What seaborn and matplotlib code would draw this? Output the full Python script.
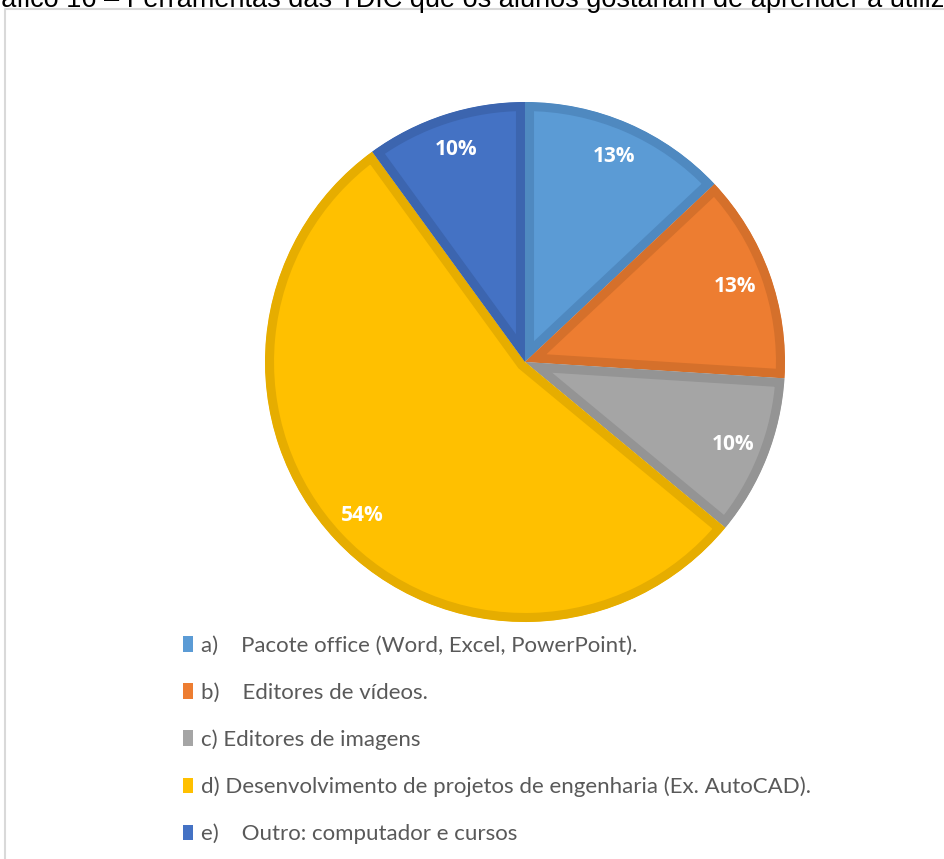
import matplotlib
matplotlib.use("Agg")
import matplotlib.pyplot as plt
import seaborn as sns
from matplotlib.patches import Patch, Wedge

# dados do gráfico
categorias = [
    "a)    Pacote office (Word, Excel, PowerPoint).",
    "b)    Editores de vídeos.",
    "c) Editores de imagens",
    "d) Desenvolvimento de projetos de engenharia (Ex. AutoCAD).",
    "e)    Outro: computador e cursos",
]
percentuais = [13, 13, 10, 54, 10]
cores = ["#5B9BD5", "#ED7D31", "#A5A5A5", "#FFC000", "#4472C4"]
bordas = ["#4F89C0", "#D5702B", "#949494", "#E6AD00", "#3C65AF"]
titulo = "Gráfico 16 – Ferramentas das TDIC que os alunos gostariam de aprender a utilizar"

sns.set_theme(style="white")
plt.rcParams["font.family"] = ["Lato", "DejaVu Sans"]

W, H = 945, 859
fig = plt.figure(figsize=(W / 100, H / 100), dpi=100)
ax = fig.add_axes([0, 0, 1, 1])

paleta = sns.color_palette(cores)
centro = (525, H - 362)
raio = 260
wedges, textos, pcts = ax.pie(
    percentuais,
    colors=paleta,
    startangle=90,
    counterclock=False,
    center=centro,
    radius=raio,
    autopct=lambda p: f"{p:.0f}%",
    pctdistance=0.86,
    frame=True,
    textprops=dict(color="white", fontsize=15, fontweight="bold",
                   family=["Open Sans", "DejaVu Sans"]),
)
# borda interna estilo Excel: traço largo recortado pela própria fatia
for w, b in zip(wedges, bordas):
    recorte = Wedge(w.center, w.r, w.theta1, w.theta2, transform=ax.transData)
    w.set_edgecolor(b)
    w.set_linewidth(13)
    w.set_joinstyle("miter")
    w.set_clip_on(True)
    w.set_clip_path(recorte)

ax.set_xlim(0, W)
ax.set_ylim(0, H)
ax.axis("off")

# moldura da área do gráfico
ax.plot([5, 5, W], [0, H - 9, H - 9], color="#d9d9d9", lw=1.5, clip_on=False)

# título cortado no topo
ax.text(-29, H - 7, titulo, fontsize=19.5, family=["Liberation Sans", "DejaVu Sans"],
        color="black", va="baseline", ha="left", clip_on=False)

handles = [Patch(facecolor=c, edgecolor="none") for c in cores]
leg = fig.legend(handles, categorias, loc="upper left",
                 bbox_to_anchor=(183 / W, 1 - 636 / H),
                 frameon=False, fontsize=16, borderpad=0, borderaxespad=0,
                 handlelength=0.45, handleheight=0.7, handletextpad=0.35,
                 labelspacing=1.2)
for t in leg.get_texts():
    t.set_color("#595959")

fig.savefig("out.png", dpi=100)
